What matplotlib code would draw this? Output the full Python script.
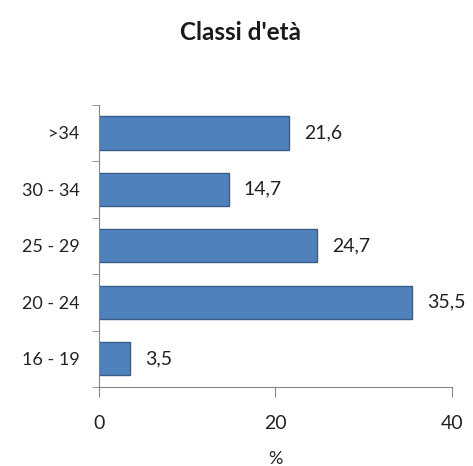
import matplotlib.pyplot as plt
import numpy as np

# data
categories = ['16 - 19', '20 - 24', '25 - 29', '30 - 34', '>34']
values = [3.5, 35.5, 24.7, 14.7, 21.6]
xticks = [0, 20, 40]

plt.rcParams['font.family'] = ['Lato', 'DejaVu Sans']

fig = plt.figure(figsize=(4.73, 4.66), dpi=100)
ax = fig.add_axes([0.209, 0.1695, 0.746, 0.606])

ypos = np.arange(len(categories))
ax.barh(ypos, values, height=0.59, color='#4F81BD', edgecolor='#385D8A',
        linewidth=1)

for y, v in zip(ypos, values):
    ax.text(v + 1.7, y, f'{v:.1f}'.replace('.', ','), va='center',
            ha='left', fontsize=14, color='#222222')

ax.set_xlim(0, 40)
ax.set_ylim(-0.5, len(categories) - 0.5)
ax.set_xticks(xticks)
ax.set_xticklabels([str(t) for t in xticks], fontsize=14, color='#222222')
ax.set_yticks(ypos)
ax.set_yticklabels(categories, fontsize=13, color='#222222')
ax.tick_params(axis='y', length=0, pad=14)
ax.tick_params(axis='x', length=7, color='#868686', pad=13)

# category boundary ticks on the y axis
ax.set_yticks(np.arange(-0.5, len(categories)), minor=True)
ax.tick_params(axis='y', which='minor', length=5, color='#868686')

for side in ['top', 'right']:
    ax.spines[side].set_visible(False)
for side in ['left', 'bottom']:
    ax.spines[side].set_color('#868686')

ax.set_xlabel('%', fontsize=13, color='#222222', labelpad=14)
fig.suptitle("Classi d'età", x=0.508, y=0.955, fontsize=17.5,
             fontweight='bold', color='#1a1a1a')

fig.savefig('out.png', dpi=100)
